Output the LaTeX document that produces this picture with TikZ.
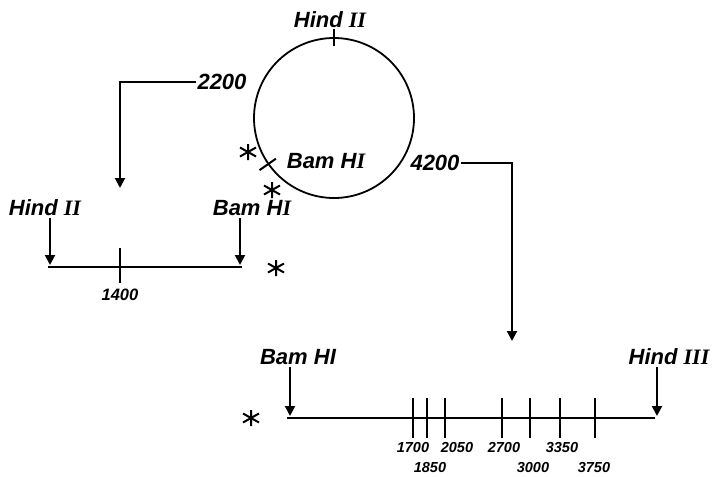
\documentclass[tikz,border=0pt]{standalone}
\usepackage{fontspec}
\setmainfont{Liberation Sans}
\newfontfamily\numfont{Liberation Serif}
\usetikzlibrary{arrows.meta}
\tikzset{
  sitelabel/.style={font=\bfseries\itshape\fontsize{22}{22}\selectfont, inner sep=1pt},
  sizelabel/.style={font=\bfseries\itshape\fontsize{14.5}{14.5}\selectfont, inner sep=0pt},
  cut/.style={-{Triangle[width=10pt,length=10pt]}, line width=2pt},
  asterisk/.pic={\draw[line width=2pt] (0,-8) -- (0,8) (-8,-4.5) -- (8,4.5) (-8,4.5) -- (8,-4.5);}
}

\begin{document}
\begin{tikzpicture}[x=1pt,y=-1pt,line width=2pt]
  \useasboundingbox (0,0) rectangle (716,477);

  % circular plasmid with its two sites
  \node[circle, draw, line width=1.8pt, minimum size=160pt, inner sep=0pt] (plasmid) at (334,118) {};
  \draw (plasmid.north) -- +(90:8pt) (plasmid.north) -- +(270:9pt);
  \draw (plasmid.215) -- +(215:10pt) (plasmid.215) -- +(35:10pt);
  \node[sitelabel] (hindtop) at (330,20) {Hind {\numfont II}};
  \node[sitelabel] (bamtop) at (326,161) {Bam H{\numfont I}};
  \pic at (248,152) {asterisk};
  \pic at (272,190) {asterisk};

  % positions on the circle
  \node[sitelabel] (k2200) at (222,82) {2200};
  \node[sitelabel] (k4200) at (435,163) {4200};
  \coordinate (drop1) at (120,188);
  \coordinate (drop2) at (512,341);
  \draw[cut] (k2200.west) -| (drop1);
  \draw[cut] (k4200.east) -| (drop2);

  % small fragment
  \coordinate (f1l) at (48,267);
  \coordinate (f1r) at (242,267);
  \draw (f1l) -- (f1r);
  \draw (120,248) -- (120,283);
  \node[sizelabel, font=\bfseries\itshape\fontsize{16.5}{16.5}\selectfont] (k1400) at (120,295) {1400};
  \node[sitelabel] (hindL) at (45,208) {Hind {\numfont II}};
  \node[sitelabel] (bamL) at (252,208) {Bam H{\numfont I}};
  \coordinate (hindLtip) at (50,265);
  \coordinate (bamLtip) at (240,265);
  \draw[cut] (hindL.south -| hindLtip) -- (hindLtip);
  \draw[cut] (bamL.south -| bamLtip) -- (bamLtip);
  \pic at (276,268) {asterisk};

  % large fragment
  \coordinate (f2l) at (287,418);
  \coordinate (f2r) at (655,418);
  \draw (f2l) -- (f2r);
  \foreach \t/\l/\y/\v in {413/413/448/1700, 427/430/468/1850, 445/457/448/2050,
      502/504/448/2700, 530/533/468/3000, 560/562/448/3350, 595/594/468/3750}{
    \draw (\t,398) -- (\t,438);
    \node[sizelabel] (s\v) at (\l,\y) {\v};
  }
  \node[sitelabel] (bamR) at (298,357) {Bam HI};
  \node[sitelabel] (hindR) at (669,357) {Hind {\numfont III}};
  \coordinate (bamRtip) at (290,416);
  \coordinate (hindRtip) at (657,416);
  \draw[cut] (bamR.south -| bamRtip) -- (bamRtip);
  \draw[cut] (hindR.south -| hindRtip) -- (hindRtip);
  \pic at (251,418) {asterisk};

\end{tikzpicture}
\end{document}
